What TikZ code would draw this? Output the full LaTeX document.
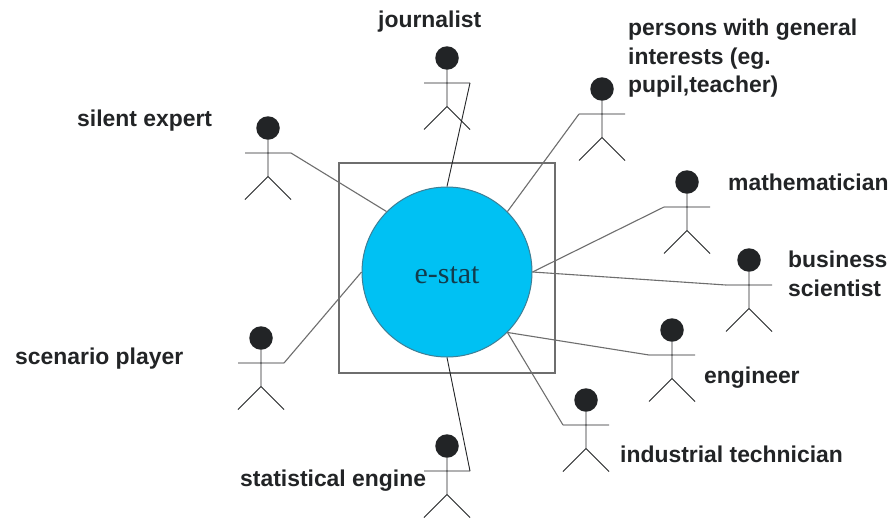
\documentclass[tikz,border=0pt]{standalone}
\usepackage{fontspec}
\setmainfont{Liberation Sans}
\newfontfamily\hubfont{Liberation Serif}
\definecolor{ink}{HTML}{222426}
\definecolor{wire}{HTML}{6E6E6E}
\definecolor{hubfill}{HTML}{00C1F3}
\definecolor{hubedge}{HTML}{3E7F96}
\definecolor{hubtext}{HTML}{123C4C}
\tikzset{
  x=1pt,y=-1pt,
  head/.style={circle,fill=ink,draw=none,minimum size=23.5pt,inner sep=0pt},
  limb/.style={draw=ink,line width=.9pt},
  wirelink/.style={draw=wire,line width=1.1pt},
  inklink/.style={draw=ink,line width=.9pt},
  lbl/.style={font=\fontsize{22.9}{28.5}\selectfont\bfseries,text=ink,inner sep=0pt,align=left},
}
\newcommand{\actor}[3]{%
  \node[head] (#1) at (#2,#3) {};
  \coordinate (#1-l) at (#2-23,#3+25);
  \coordinate (#1-r) at (#2+23,#3+25);
  \coordinate (#1-h) at (#2,#3+48.5);
  \coordinate (#1-a) at (#2-23,#3+71.5);
  \coordinate (#1-b) at (#2+23,#3+71.5);
  \draw[limb] (#1) -- (#1-h) (#1-l) -- (#1-r) (#1-a) -- (#1-h) -- (#1-b);
}
\begin{document}
\begin{tikzpicture}
\useasboundingbox (0,0) rectangle (891,517);
\fill[white] (0,0) rectangle (891,517);
\node[draw=wire,line width=1.3pt,minimum width=216pt,minimum height=210pt,inner sep=0pt] (frame) at (447,268) {};
\node[circle,fill=hubfill,draw=hubedge,line width=1pt,minimum size=170pt,inner sep=0pt] (hub) at (447,272) {};
\node[font=\fontsize{30}{30}\selectfont\hubfont,text=hubtext,anchor=base,inner sep=0pt] (hubname) at (447,283) {e-stat};
\actor{journ}{447}{58}
\actor{silent}{268}{128}
\actor{person}{602}{89}
\actor{math}{687}{182}
\actor{biz}{749}{260}
\actor{eng}{672}{330}
\actor{ind}{586}{400}
\actor{scen}{261}{338}
\actor{stat}{447}{446}
\draw[inklink] (journ-r) -- (hub.90);
\draw[wirelink] (silent-r) -- (hub.135);
\draw[wirelink] (person-l) -- (hub.45);
\draw[wirelink] (math-l) -- (hub.0);
\draw[wirelink] (biz-l) -- (hub.0);
\draw[wirelink] (eng-l) -- (hub.-45);
\draw[wirelink] (ind-l) -- (hub.-45);
\draw[wirelink] (scen-r) -- (hub.180);
\draw[inklink] (stat-r) -- (hub.-90);
\node[lbl,anchor=base west] (ljourn) at (378,27) {journalist};
\node[lbl,anchor=base west] (lsilent) at (77,126) {silent expert};
\node[lbl,anchor=north west] (lperson) at (628,19) {persons with general\\interests (eg.\\pupil,teacher)};
\node[lbl,anchor=base west] (lmath) at (728,190) {mathematician};
\node[lbl,anchor=north west] (lbiz) at (788,251) {business\\scientist};
\node[lbl,anchor=base west] (leng) at (704,383) {engineer};
\node[lbl,anchor=base west] (lind) at (620,462) {industrial technician};
\node[lbl,anchor=base west] (lstat) at (240,486) {statistical engine};
\node[lbl,anchor=base west] (lscen) at (15,364) {scenario player};
\end{tikzpicture}
\end{document}
